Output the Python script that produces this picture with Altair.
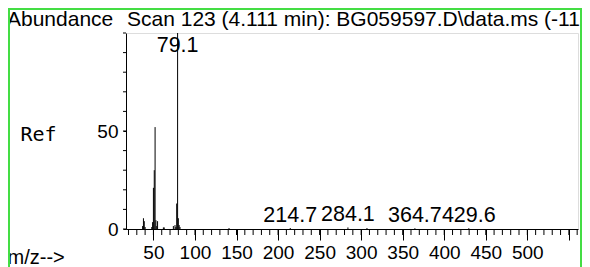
import altair as alt
import pandas as pd

# Spectrum peaks (m/z, relative abundance %)
mz = [37, 38, 39, 40, 48, 49, 50, 51, 52, 53, 54, 55, 62, 63,
      74, 76, 77, 78, 79.1, 80, 81, 82, 141, 214.7, 284.1, 307, 364.7, 429.6]
intensity = [1.5, 5.5, 4, 1, 1, 3.5, 21, 30, 52, 4.5, 1.5, 4, 0.8, 0.8,
             1.5, 2, 1, 13, 100, 5.5, 2, 1, 0.5, 0.5, 0.8, 0.5, 0.4, 0.4]

# Labelled peaks
label_mz = [79.1, 214.7, 284.1, 364.7, 429.6]
label_int = [100, 0.5, 0.8, 0.4, 0.4]
label_text = ["79.1", "214.7", "284.1", "364.7", "429.6"]

x_major = list(range(50, 551, 50))
x_minor = list(range(20, 561, 10))
y_major = [0, 50]
y_minor = list(range(0, 101, 10))

header_left = "Abundance"
header_title = "Scan 123 (4.111 min): BG059597.D\\data.ms (-11"
y_title = "Ref"
x_title = "m/z-->"

W, H = 452, 196
FONT = "Liberation Sans"

peaks = pd.DataFrame({"mz": mz, "ab": intensity})
labels = pd.DataFrame({"mz": label_mz, "ab": label_int, "t": label_text})
xminor_df = pd.DataFrame({"v": x_minor})
yminor_df = pd.DataFrame({"v": y_minor})

xscale = alt.Scale(domain=[17, 561], nice=False, zero=False)
yscale = alt.Scale(domain=[0, 100], nice=False)

xaxis = alt.Axis(
    values=x_major, tickSize=11,
    labelExpr="datum.value <= 500 ? datum.label : ''",
    labelFont=FONT, labelFontSize=19, labelColor="black", labelPadding=3,
    labelFlush=False, labelOverlap=False, labelBound=False,
    domainColor="black", tickColor="black", grid=False,
    title=x_title, titleFont=FONT, titleFontSize=20, titleFontWeight="normal",
    titleColor="black", titleAlign="left", titleBaseline="alphabetic",
    titleX=-119, titleY=34, titleAnchor="start",
)
yaxis = alt.Axis(
    values=y_major, tickSize=3,
    labelFont=FONT, labelFontSize=19, labelColor="black", labelPadding=5,
    labelFlush=False, labelOverlap=False, labelBound=False,
    domainColor="black", tickColor="black", grid=False,
    title=y_title, titleFont="DejaVu Sans Mono", titleFontSize=20,
    titleFontWeight="normal", titleColor="black", titleAngle=0,
    titleAlign="left", titleBaseline="alphabetic", titleX=-106, titleY=107,
)

bars = alt.Chart(peaks).mark_rule(color="black", strokeWidth=1).encode(
    x=alt.X("mz:Q", scale=xscale, axis=xaxis),
    y=alt.Y("ab:Q", scale=yscale, axis=yaxis),
    y2=alt.datum(0),
)

xminor_ticks = alt.Chart(xminor_df).mark_rule(color="black", strokeWidth=1).encode(
    x=alt.X("v:Q", scale=xscale),
    y=alt.value(H), y2=alt.value(H + 6),
)
yminor_ticks = alt.Chart(yminor_df).mark_rule(color="black", strokeWidth=1).encode(
    y=alt.Y("v:Q", scale=yscale),
    x=alt.value(0), x2=alt.value(-3),
)

peak_labels = alt.Chart(labels).transform_calculate(
    ly="min(datum.ab, 87)"
).mark_text(
    font=FONT, fontSize=21.5, color="black", align="center",
    baseline="alphabetic", dy=-6,
).encode(
    x=alt.X("mz:Q", scale=xscale),
    y=alt.Y("ly:Q", scale=yscale),
    text="t:N",
)

hdr1 = alt.Chart(alt.Data(values=[{"t": header_left}])).mark_text(
    font=FONT, fontSize=21, color="black", align="left", baseline="alphabetic"
).encode(x=alt.value(-119), y=alt.value(-7), text="t:N")

hdr2 = alt.Chart(alt.Data(values=[{"t": header_title}])).mark_text(
    font=FONT, fontSize=21, color="black", align="left", baseline="alphabetic"
).encode(x=alt.value(1), y=alt.value(-7), text="t:N")

border = alt.Chart(alt.Data(values=[{"b": 1}])).mark_rect(
    filled=False, stroke="#44dd44", strokeWidth=2
).encode(
    x=alt.value(-117), x2=alt.value(455),
    y=alt.value(-24), y2=alt.value(320),
)

chart = alt.layer(bars, xminor_ticks, yminor_ticks, peak_labels, hdr1, hdr2, border).properties(
    width=W, height=H,
    autosize=alt.AutoSizeParams(type="none"),
    padding={"left": 118, "top": 25, "right": 4, "bottom": 38},
).configure_view(stroke=None).configure(background="white")

chart.save("out.html", embed_options={"renderer": "svg", "actions": False})
